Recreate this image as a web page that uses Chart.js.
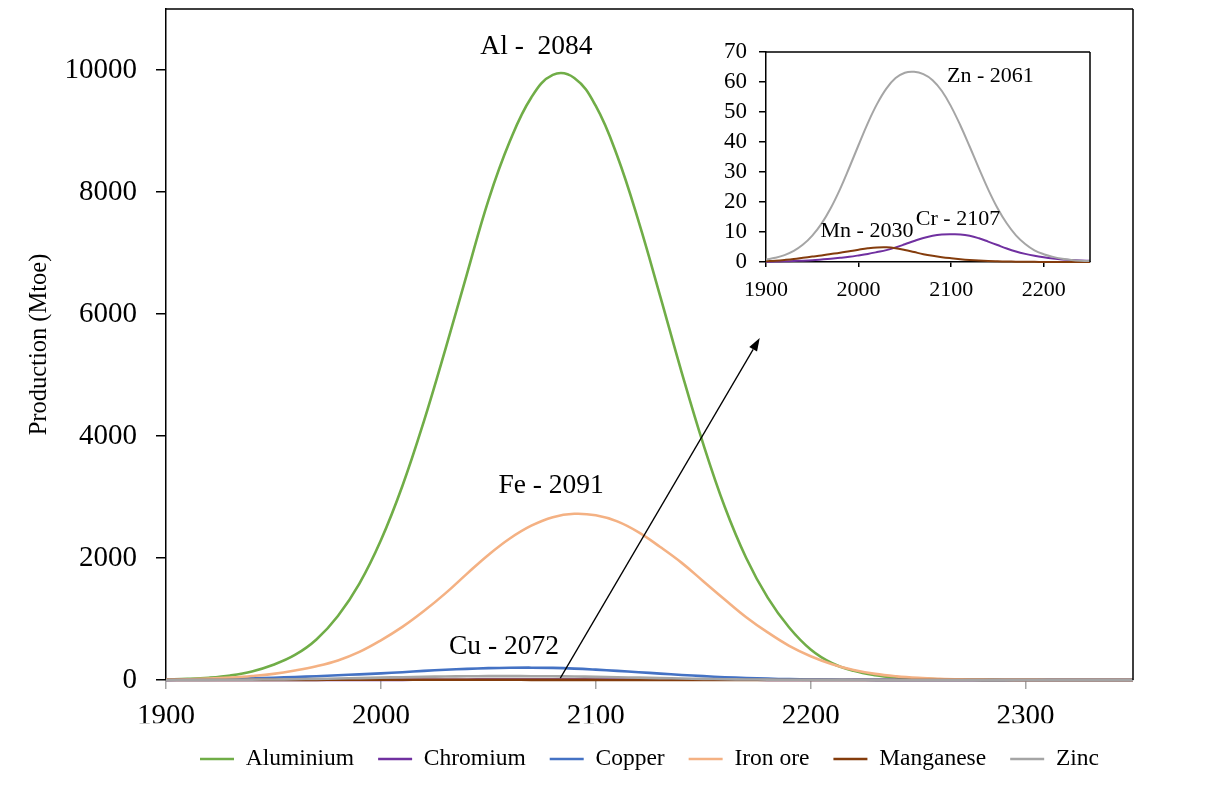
<!DOCTYPE html>
<html><head><meta charset="utf-8">
<script src="https://cdn.jsdelivr.net/npm/chart.js@4.4.1/dist/chart.umd.min.js"></script>
<style>
html,body{margin:0;padding:0;background:#fff;}
#wrap{position:relative;width:1209px;height:785px;overflow:hidden;background:#fff;}
#main{position:absolute;left:0;top:0;}
#inset{position:absolute;left:700px;top:30px;}
</style></head><body>
<div id="wrap">
<canvas id="main" width="1209" height="785"></canvas>
<canvas id="inset" width="410" height="290"></canvas>
</div>
<script>
// ---- data ----
const years = [1900,1910,1920,1930,1940,1950,1960,1970,1980,1990,2000,2010,2020,2030,2040,2050,2060,2070,2080,2090,2100,2110,2120,2130,2140,2150,2160,2170,2180,2190,2200,2210,2220,2230,2240,2250,2260,2270,2280,2290,2300,2310,2320,2330,2340,2350];
const aluminium = [7,18,38,75,140,250,410,665,1050,1580,2290,3180,4240,5420,6650,7860,8830,9550,9920,9870,9410,8590,7510,6290,5040,3870,2840,2000,1350,860,500,275,150,80,42,22,11,5,2,1,0,0,0,0,0,0];
const chromium = [0.1,0.15,0.22,0.32,0.45,0.62,0.85,1.1,1.4,1.75,2.2,2.7,3.3,3.95,4.85,5.9,7.0,8.0,8.75,9.15,9.25,9.2,8.75,7.9,6.8,5.65,4.5,3.5,2.7,2.05,1.55,1.15,0.85,0.65,0.5,0.4,0.3,0.2,0.15,0.1,0.07,0.05,0.03,0.02,0.01,0];
const copper = [2,5,10,18,28,38,48,62,78,93,109,128,150,168,183,194,200,202,198,187,170,150,128,105,83,63,46,32,22,14,9,6,4,2,1,1,0,0,0,0,0,0,0,0,0,0];
const ironOre = [6,12,22,40,65,100,155,225,320,460,650,870,1130,1420,1740,2050,2320,2530,2670,2725,2700,2600,2420,2180,1920,1620,1320,1030,780,560,390,260,165,100,60,35,20,11,6,3,2,1,0,0,0,0];
const manganese = [0.25,0.45,0.7,1.0,1.4,1.8,2.2,2.65,3.1,3.6,4.1,4.55,4.85,4.9,4.6,4.0,3.3,2.6,2.05,1.6,1.25,0.95,0.7,0.5,0.35,0.25,0.17,0.11,0.07,0.05,0.03,0.02,0.01,0,0,0,0,0,0,0,0,0,0,0,0,0];
const zinc = [0.8,1.4,2.3,3.7,5.8,8.8,12.8,18.0,24.3,31.5,39.0,46.3,52.7,57.8,61.3,63.1,63.4,62.6,60.6,57.0,51.8,45.5,38.5,31.2,24.2,18.0,12.9,8.9,6.0,3.9,2.6,1.7,1.1,0.7,0.45,0.3,0.2,0.12,0.07,0.04,0.02,0,0,0,0,0];

const seriesNames = ['Aluminium','Chromium','Copper','Iron ore','Manganese','Zinc'];
const mainXTicks = [1900,2000,2100,2200,2300];
const mainYTicks = [0,2000,4000,6000,8000,10000];
const insetXTicks = [1900,2000,2100,2200];
const insetYTicks = [0,10,20,30,40,50,60,70];

// annotation texts (anchored in data units)
const mainNotes = [
  {text:'Al -  2084', x:2072.4, y:10380},
  {text:'Fe - 2091', x:2079.2, y:3180},
  {text:'Cu - 2072', x:2057.3, y:541}
];
const insetNotes = [
  {text:'Zn - 2061', x:2142.5, y:61.8},
  {text:'Cr - 2107', x:2107.4, y:14.2},
  {text:'Mn - 2030', x:2009.1, y:10.3}
];
const arrowFrom = [2083.5, 30];
const arrowTo = [2176.3, 5605];

// ---- styling ----
const FONT = "'Liberation Serif', 'Times New Roman', serif";
Chart.defaults.font.family = FONT;
Chart.defaults.color = '#000';
const colors = {Aluminium:'#70AD47', Chromium:'#7030A0', Copper:'#4472C4', 'Iron ore':'#F4B183', Manganese:'#843C0C', Zinc:'#A5A5A5'};
const seriesData = {Aluminium:aluminium, Chromium:chromium, Copper:copper, 'Iron ore':ironOre, Manganese:manganese, Zinc:zinc};

const pts = arr => years.map((x,i)=>({x:x, y:arr[i]}));

const decor = {
  id:'decor',
  afterDatasetsDraw(chart, args, o){
    const ctx = chart.ctx, xs = chart.scales.x, ys = chart.scales.y;
    ctx.save();
    ctx.fillStyle = '#000';
    ctx.textAlign = 'center';
    ctx.textBaseline = 'middle';
    ctx.font = o.fontSize + 'px ' + FONT;
    (o.notes||[]).forEach(n => ctx.fillText(n.text, xs.getPixelForValue(n.x), ys.getPixelForValue(n.y)));
    if (o.arrow){
      const x1 = xs.getPixelForValue(o.arrow.from[0]), y1 = ys.getPixelForValue(o.arrow.from[1]);
      const x2 = xs.getPixelForValue(o.arrow.to[0]), y2 = ys.getPixelForValue(o.arrow.to[1]);
      const ang = Math.atan2(y2-y1, x2-x1), L = 13, W = 4.5;
      const bx = x2 - L*Math.cos(ang), by = y2 - L*Math.sin(ang);
      ctx.strokeStyle = '#000'; ctx.lineWidth = 1.3;
      ctx.beginPath(); ctx.moveTo(x1,y1); ctx.lineTo(bx,by); ctx.stroke();
      ctx.beginPath(); ctx.moveTo(x2,y2);
      ctx.lineTo(bx - W*Math.sin(ang), by + W*Math.cos(ang));
      ctx.lineTo(bx + W*Math.sin(ang), by - W*Math.cos(ang));
      ctx.closePath(); ctx.fill();
    }
    ctx.restore();
  },
  afterDraw(chart, args, o){
    const ctx = chart.ctx, a = chart.chartArea;
    ctx.save();
    ctx.strokeStyle = '#000'; ctx.lineWidth = 1.5;
    ctx.beginPath();
    (o.sides||[]).forEach(s=>{
      if (s==='top'){ ctx.moveTo(a.left, a.top); ctx.lineTo(a.right, a.top); }
      if (s==='right'){ ctx.moveTo(a.right, a.top); ctx.lineTo(a.right, a.bottom); }
    });
    ctx.stroke();
    ctx.restore();
  }
};

const fixY = w => s => { s.width = w; s.paddingTop = 0; s.paddingBottom = 0; };
const fixX = h => s => { s.height = h; };

// ---- main chart ----
new Chart(document.getElementById('main'), {
  type:'line',
  data:{ datasets: seriesNames.map((n,i)=>({
    label:n, data:pts(seriesData[n]), borderColor:colors[n], backgroundColor:colors[n],
    borderWidth:2.6, pointRadius:0, fill:false, tension:0.4,
    order: seriesNames.length - i, clip:{left:2,top:0,right:2,bottom:4}
  }))},
  options:{
    responsive:false, animation:false, events:[],
    layout:{padding:{left:0, right:76, top:9, bottom:4.25}},
    scales:{
      x:{type:'linear', min:1900, max:2350,
        afterBuildTicks: s => { s.ticks = mainXTicks.map(v=>({value:v})); },
        afterFit: fixX(43.25),
        grid:{drawOnChartArea:false, drawTicks:true, tickLength:9, color:'#A6A6A6', lineWidth:1.5},
        border:{display:true, color:'#A6A6A6', width:1.5},
        ticks:{font:{size:29}, padding:10, maxRotation:0, autoSkip:false, color:'#000', callback:v=>String(v)}
      },
      y:{type:'linear', min:0, max:11000,
        afterBuildTicks: s => { s.ticks = mainYTicks.map(v=>({value:v})); },
        afterFit: fixY(166),
        grid:{drawOnChartArea:false, drawTicks:true, tickLength:10, color:'#000', lineWidth:1.5},
        border:{display:true, color:'#000', width:1.5},
        ticks:{font:{size:29}, padding:19, autoSkip:false, color:'#000', callback:v=>String(v)},
        title:{display:true, text:'Production (Mtoe)', font:{size:24.5}, color:'#000', padding:{top:25,bottom:0}}
      }
    },
    plugins:{
      tooltip:{enabled:false},
      legend:{display:true, position:'bottom', fullSize:false,
        labels:{usePointStyle:true, pointStyle:'line', pointStyleWidth:34, font:{size:23.5}, padding:24, color:'#000',
          sort:(a,b)=>a.datasetIndex-b.datasetIndex}
      },
      decor:{fontSize:27.5, notes:mainNotes, arrow:{from:arrowFrom, to:arrowTo}, sides:['top','right']}
    }
  },
  plugins:[decor]
});

// ---- inset chart ----
const insetNames = ['Chromium','Manganese','Zinc'];
new Chart(document.getElementById('inset'), {
  type:'line',
  data:{ datasets: insetNames.map((n,i)=>({
    label:n, data:pts(seriesData[n]), borderColor:colors[n], backgroundColor:colors[n],
    borderWidth:2, pointRadius:0, fill:false, tension:0.4,
    order: insetNames.length - i, clip:{left:2,top:0,right:0,bottom:3}
  }))},
  options:{
    responsive:false, animation:false, events:[],
    layout:{padding:{left:0, right:20, top:22, bottom:0}},
    scales:{
      x:{type:'linear', min:1900, max:2250,
        afterBuildTicks: s => { s.ticks = insetXTicks.map(v=>({value:v})); },
        afterFit: fixX(58),
        grid:{drawOnChartArea:false, drawTicks:true, tickLength:5, color:'#000', lineWidth:1.5},
        border:{display:true, color:'#000', width:1.5},
        ticks:{font:{size:22}, padding:10, maxRotation:0, autoSkip:false, color:'#000', callback:v=>String(v)}
      },
      y:{type:'linear', min:0, max:70,
        afterBuildTicks: s => { s.ticks = insetYTicks.map(v=>({value:v})); },
        afterFit: fixY(66),
        grid:{drawOnChartArea:false, drawTicks:true, tickLength:7, color:'#000', lineWidth:1.5},
        border:{display:true, color:'#000', width:1.5},
        ticks:{font:{size:23}, padding:12, autoSkip:false, color:'#000', callback:v=>String(v)}
      }
    },
    plugins:{
      tooltip:{enabled:false},
      legend:{display:false},
      decor:{fontSize:22, notes:insetNotes, sides:['top','right']}
    }
  },
  plugins:[decor]
});
</script>
</body></html>
